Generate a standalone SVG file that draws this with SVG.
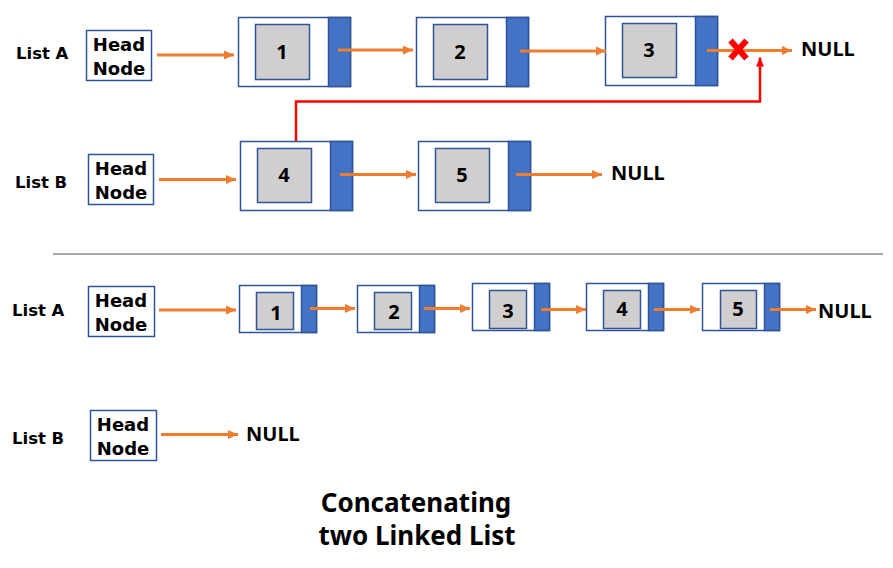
<svg xmlns="http://www.w3.org/2000/svg" width="893" height="568" viewBox="0 0 893 568">
<defs>
<marker id="ao" markerUnits="userSpaceOnUse" markerWidth="12" markerHeight="12" viewBox="0 0 12 12" refX="10" refY="6" orient="auto">
<path d="M0,1.5 L10,6 L0,10.5 Z" fill="#ED7D31"/>
</marker>
<marker id="ar" markerUnits="userSpaceOnUse" markerWidth="10" markerHeight="10" viewBox="0 0 10 10" refX="9" refY="5" orient="auto">
<path d="M0,1 L9,5 L0,9 Z" fill="#FF0000"/>
</marker>
</defs>
<style>
.lbl{font-family:"DejaVu Sans",sans-serif;font-weight:bold;font-size:16.5px;fill:#000}
.hd{font-family:"DejaVu Sans",sans-serif;font-weight:bold;font-size:18px;fill:#000;text-anchor:middle}
.hbox{fill:#fff;stroke:#2F5597;stroke-width:1.5}
.outer{fill:#fff;stroke:#2F5597;stroke-width:1.5}
.ptr{fill:#4472C4;stroke:#2F5597;stroke-width:1.5}
.data{fill:#D0CECE;stroke:#2F5597;stroke-width:1.5}
.num{font-family:"Noto Sans",sans-serif;font-weight:bold;font-size:20px;fill:#000;text-anchor:middle}
.nul{font-family:"Noto Sans",sans-serif;font-weight:bold;font-size:20px;fill:#000}
.arr{stroke:#ED7D31;stroke-width:3;fill:none;marker-end:url(#ao)}
.title{font-family:"Noto Sans",sans-serif;font-weight:bold;font-size:26px;fill:#000;text-anchor:middle}
</style>
<rect width="893" height="568" fill="#fff"/>

<!-- labels -->
<g id="labels">
<text class="lbl" x="16" y="59">List A</text>
<text class="lbl" x="15" y="188">List B</text>
<text class="lbl" x="12" y="316">List A</text>
<text class="lbl" x="12" y="444">List B</text>
<text class="nul" x="801" y="56">NULL</text>
<text class="nul" x="611" y="180">NULL</text>
<text class="nul" x="818" y="318">NULL</text>
<text class="nul" x="246" y="441">NULL</text>
</g>

<!-- Top List A -->
<g id="headA1"><rect class="hbox" x="86.5" y="30.5" width="65" height="50"/><text class="hd" x="119" y="51">Head</text><text class="hd" x="119" y="75">Node</text></g>
<g id="a1n1"><rect class="outer" x="238.5" y="17.5" width="112" height="69"/><rect class="ptr" x="328.5" y="17.5" width="22" height="69"/><rect class="data" x="255.5" y="24.5" width="54" height="55"/><text class="num" x="282" y="59">1</text></g>
<g id="a1n2"><rect class="outer" x="416.5" y="17.5" width="112" height="69"/><rect class="ptr" x="506.5" y="17.5" width="22" height="69"/><rect class="data" x="433.5" y="24.5" width="54" height="55"/><text class="num" x="460" y="59">2</text></g>
<g id="a1n3"><rect class="outer" x="605.5" y="16.5" width="112" height="69"/><rect class="ptr" x="695.5" y="16.5" width="22" height="69"/><rect class="data" x="622.5" y="23.5" width="54" height="54"/><text class="num" x="649" y="57">3</text></g>

<!-- Top List B -->
<g id="headB1"><rect class="hbox" x="88.5" y="154.5" width="65" height="50"/><text class="hd" x="121" y="175">Head</text><text class="hd" x="121" y="199">Node</text></g>
<g id="b1n4"><rect class="outer" x="240.5" y="141.5" width="112" height="69"/><rect class="ptr" x="330.5" y="141.5" width="22" height="69"/><rect class="data" x="257.5" y="148.5" width="54" height="54"/><text class="num" x="284" y="182">4</text></g>
<g id="b1n5"><rect class="outer" x="418.5" y="141.5" width="112" height="69"/><rect class="ptr" x="508.5" y="141.5" width="22" height="69"/><rect class="data" x="435.5" y="148.5" width="54" height="54"/><text class="num" x="462" y="182">5</text></g>

<!-- separator -->
<g id="separator"><line x1="53" y1="254" x2="883" y2="254" stroke="#A6A6A6" stroke-width="2"/></g>

<!-- Bottom List A -->
<g id="headA2"><rect class="hbox" x="88.5" y="286.5" width="66" height="50"/><text class="hd" x="121" y="307">Head</text><text class="hd" x="121" y="331">Node</text></g>
<g id="a2n1"><rect class="outer" x="239.5" y="285.5" width="77" height="47"/><rect class="ptr" x="301.5" y="285.5" width="15" height="47"/><rect class="data" x="256.5" y="292.5" width="37" height="37"/><text class="num" x="276" y="320">1</text></g>
<g id="a2n2"><rect class="outer" x="357.5" y="285.5" width="77" height="47"/><rect class="ptr" x="419.5" y="285.5" width="15" height="47"/><rect class="data" x="374.5" y="292.5" width="37" height="37"/><text class="num" x="394" y="319">2</text></g>
<g id="a2n3"><rect class="outer" x="472.5" y="283.5" width="77" height="47"/><rect class="ptr" x="534.5" y="283.5" width="15" height="47"/><rect class="data" x="489.5" y="290.5" width="37" height="38"/><text class="num" x="508" y="318">3</text></g>
<g id="a2n4"><rect class="outer" x="586.5" y="283.5" width="77" height="47"/><rect class="ptr" x="648.5" y="283.5" width="15" height="47"/><rect class="data" x="603.5" y="290.5" width="37" height="38"/><text class="num" x="622" y="316">4</text></g>
<g id="a2n5"><rect class="outer" x="702.5" y="283.5" width="77" height="47"/><rect class="ptr" x="764.5" y="283.5" width="15" height="47"/><rect class="data" x="720.5" y="290.5" width="36" height="38"/><text class="num" x="738" y="316">5</text></g>

<!-- Bottom List B -->
<g id="headB2"><rect class="hbox" x="90.5" y="410.5" width="66" height="50"/><text class="hd" x="123" y="431">Head</text><text class="hd" x="123" y="455">Node</text></g>

<!-- connectors -->
<g id="connectors">
<line class="arr" x1="157" y1="55" x2="234" y2="55"/>
<line class="arr" x1="338" y1="50" x2="413" y2="50"/>
<line class="arr" x1="520" y1="51" x2="606" y2="51"/>
<line class="arr" x1="707" y1="50.5" x2="792" y2="50.5"/>
<line class="arr" x1="159" y1="179.5" x2="236" y2="179.5"/>
<line class="arr" x1="340" y1="174.5" x2="416" y2="174.5"/>
<line class="arr" x1="516" y1="174.5" x2="602" y2="174.5"/>
<line class="arr" x1="159" y1="310" x2="236" y2="310"/>
<line class="arr" x1="310" y1="308.5" x2="355" y2="308.5"/>
<line class="arr" x1="424" y1="308.5" x2="470" y2="308.5"/>
<line class="arr" x1="541" y1="309.5" x2="586" y2="309.5"/>
<line class="arr" x1="654" y1="309.5" x2="700" y2="309.5"/>
<line class="arr" x1="770" y1="309.5" x2="816" y2="309.5"/>
<line class="arr" x1="161" y1="434.5" x2="238" y2="434.5"/>
<path d="M296,141 V101.5 H760 V57.5" fill="none" stroke="#FF0000" stroke-width="2.5" marker-end="url(#ar)"/>
<g id="cut" stroke="#FF0000" stroke-width="6" stroke-linecap="butt">
<line x1="730.5" y1="40.5" x2="746.5" y2="58.5"/>
<line x1="746.5" y1="40.5" x2="730.5" y2="58.5"/>
</g>
</g>

<!-- title -->
<g id="title">
<text class="title" x="416" y="512">Concatenating</text>
<text class="title" x="417" y="545">two Linked List</text>
</g>
</svg>
